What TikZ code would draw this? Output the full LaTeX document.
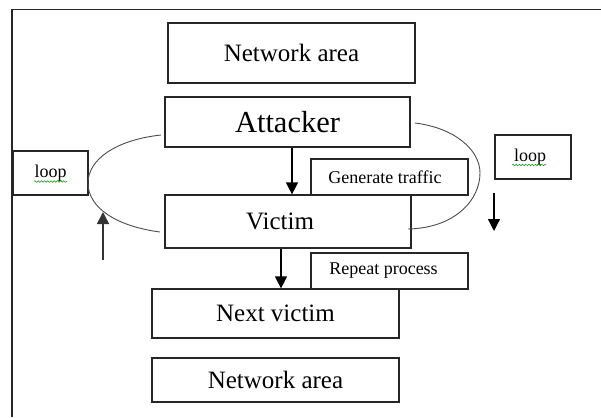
\documentclass[tikz,border=0pt]{standalone}
\usepackage{fontspec}
\setmainfont{Liberation Serif}
\usetikzlibrary{arrows.meta,decorations.pathmorphing}
\begin{document}
\begin{tikzpicture}[x=1pt,y=-1pt,
  box/.style={draw=black!85, line width=1.2pt, rectangle, inner sep=0pt, align=center},
  arr/.style={line width=1.2pt, -{Triangle[width=12pt,length=12pt]}},
  loopline/.style={draw=black!70, line width=0.9pt},
  spell/.style={draw=green!60!black, line width=0.5pt, decorate, decoration={snake, amplitude=0.8pt, segment length=3.2pt}},
  big/.style={font=\fontsize{25}{30}\selectfont},
  huge/.style={font=\fontsize{30.5}{36}\selectfont},
  small/.style={font=\fontsize{18}{21}\selectfont}]
\useasboundingbox (0,0) rectangle (601,417);
\fill[white] (0,0) rectangle (601,417);
% outer frame
\coordinate (ftr) at (601,9.5);
\coordinate (ftl) at (12,9.5);
\coordinate (fbl) at (12,417);
\draw[line width=1.3pt, black!85] (ftr) -- (ftl) -- (fbl);
% boxes
\node[box, big, minimum width=247pt, minimum height=60pt] (na1) at (291.5,53) {Network area};
\node[box, huge, minimum width=245pt, minimum height=50pt] (att) at (287.5,122) {Attacker};
\node[box, small, minimum width=157pt, minimum height=36pt] (gen) at (389.5,177) {Generate traffic\hspace{9pt}};
\node[box, big, minimum width=246pt, minimum height=53pt] (vic) at (288,221.5) {Victim\hspace{16pt}};
\node[box, small, minimum width=75pt, minimum height=44pt] (loopl) at (50.5,173) {loop};
\node[box, small, minimum width=76pt, minimum height=44pt] (loopr) at (533,157) {\hspace{0pt}loop\hspace{6pt}};
\node[box, small, minimum width=157pt, minimum height=36pt] (rep) at (389.5,271) {Repeat process\hspace{12pt}};
\node[box, big, minimum width=247pt, minimum height=49pt] (next) at (275.5,313.5) {Next victim};
\node[box, big, minimum width=247pt, minimum height=44pt] (na2) at (275.5,380) {Network area};
% spell-check underlines
\draw[spell] (34,181.5) -- (67,181.5);
\draw[spell] (512,165) -- (546,165);
% main arrows
\draw[arr] (att.south -| 292,0) -- (vic.north -| 292,0);
\draw[arr] (vic.south -| 281,0) -- (next.north -| 281,0);
% loop arcs
\coordinate (la1) at (161,135);
\coordinate (la2) at (88,183);
\coordinate (la3) at (160,232);
\draw[loopline] (la1) .. controls (115,140) and (88,160) .. (la2) .. controls (88,207) and (115,226) .. (la3);
\coordinate (ra1) at (415,123);
\coordinate (ra2) at (480,173);
\coordinate (ra3) at (408,229);
\draw[loopline] (ra1) .. controls (455,128) and (480,150) .. (ra2) .. controls (480,200) and (455,228) .. (ra3);
% free arrows
\coordinate (ua1) at (103,260);
\coordinate (ua2) at (103,212);
\draw[arr, black!80, line width=1.6pt] (ua1) -- (ua2);
\coordinate (da1) at (494,193);
\coordinate (da2) at (494,231);
\draw[arr] (da1) -- (da2);
\end{tikzpicture}
\end{document}
